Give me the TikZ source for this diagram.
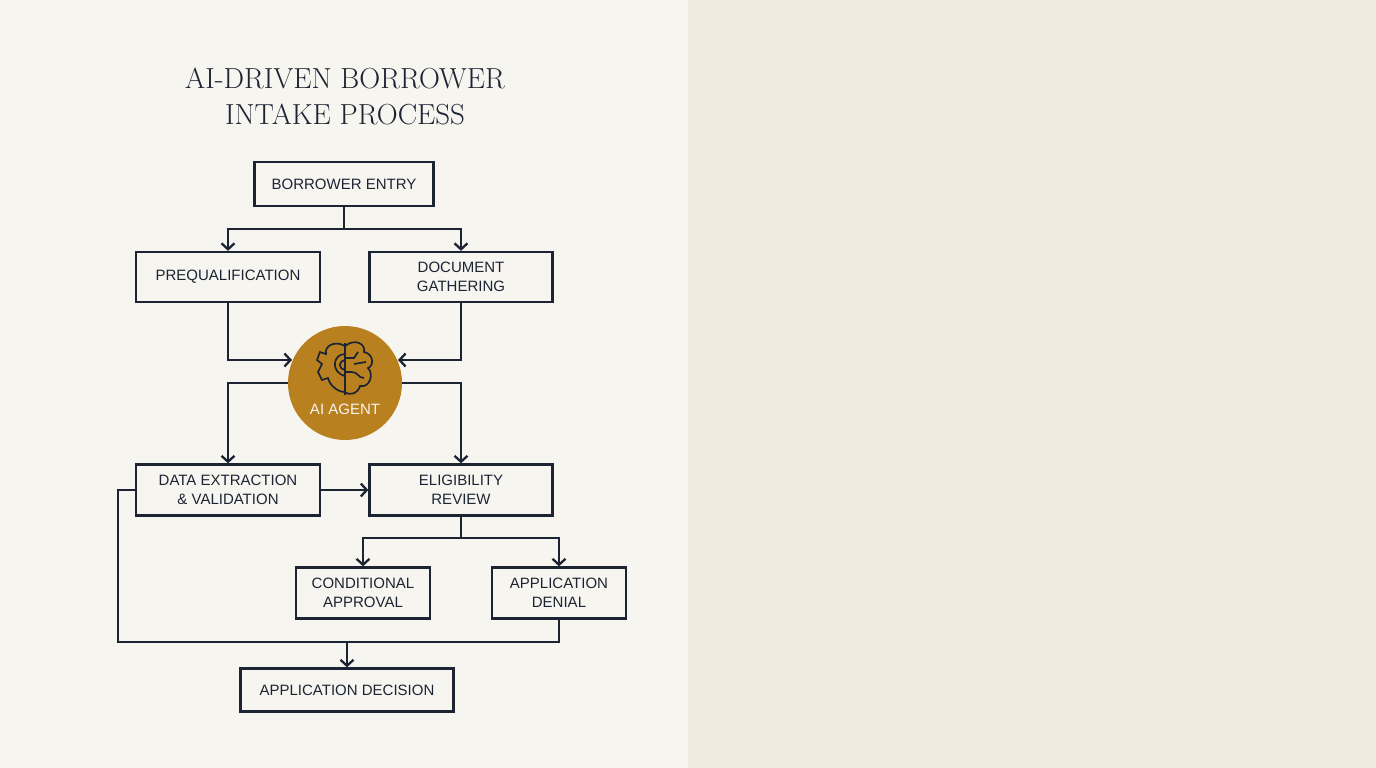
\documentclass[tikz,border=0pt]{standalone}
\usepackage{fontspec}
\setsansfont{Liberation Sans}
\usetikzlibrary{positioning,arrows.meta}
\definecolor{ink}{HTML}{1C2433}
\definecolor{paper}{HTML}{F7F5F0}
\definecolor{panel}{HTML}{EFEAE0}
\definecolor{amber}{HTML}{B98020}
\begin{document}
\begin{tikzpicture}[x=1pt,y=-1pt,
  step box/.style={rectangle,draw=ink,fill=paper,line width=2.3pt,align=center,
    font=\sffamily\fontsize{15}{19}\selectfont,text=ink,inner sep=0pt},
  flow/.style={draw=ink,line width=2.3pt,->,>={Straight Barb[length=6pt,width=13pt]}},
  link/.style={draw=ink,line width=2.3pt}]
\useasboundingbox (0,0) rectangle (1376,768);
\fill[paper] (0,0) rectangle (688,768);
\fill[panel] (688,0) rectangle (1376,768);

\node[font=\fontsize{29}{36}\selectfont,text=ink,align=center] (title) at (345,96)
  {AI-DRIVEN BORROWER\\INTAKE PROCESS};

\node[step box,minimum width=179,minimum height=44] (entry) at (344,184) {BORROWER ENTRY};
\node[step box,minimum width=184,minimum height=50] (prequal) at (228,277) {PREQUALIFICATION};
\node[step box,minimum width=183,minimum height=50] (docs) at (461,277) {DOCUMENT\\GATHERING};
\node[circle,fill=amber,minimum size=114,inner sep=0pt] (agent) at (345,383) {};
\node[font=\sffamily\fontsize{15}{19}\selectfont,text=paper] (agentlbl) at (345,409) {AI AGENT};
\node[step box,minimum width=184,minimum height=51] (extract) at (228,490) {DATA EXTRACTION\\\& VALIDATION};
\node[step box,minimum width=183,minimum height=51] (elig) at (461,490) {ELIGIBILITY\\REVIEW};
\node[step box,minimum width=134,minimum height=51] (cond) at (363,593) {CONDITIONAL\\APPROVAL};
\node[step box,minimum width=134,minimum height=51] (denial) at (559,593) {APPLICATION\\DENIAL};
\node[step box,minimum width=213,minimum height=43] (decision) at (347,690) {APPLICATION DECISION};

\coordinate (inL) at (292,360);
\coordinate (inR) at (398,360);
\coordinate (fork) at (344,229);
\coordinate (split) at (461,538);
\coordinate (merge) at (347,642);

% icon: gear and brain
\begin{scope}[line width=1.7pt,draw=ink]
\draw (345,343) -- (345,395);
\draw (345,346) .. controls (335,340) and (324,346) .. (326,354)
  -- (320,352) -- (317,360) -- (322,364) -- (318,372) -- (322,380) -- (328,378)
  .. controls (330,386) and (338,392) .. (345,392);
\draw (345,354) .. controls (333,354) and (330,372) .. (345,376);
\draw (345,360) .. controls (338,362) and (338,368) .. (345,370);
\draw (345,346) .. controls (355,338) and (366,344) .. (364,352)
  .. controls (374,354) and (374,366) .. (368,368)
  .. controls (374,374) and (370,388) .. (360,386)
  .. controls (358,394) and (348,396) .. (345,392);
\draw (345,358) -- (354,358) -- (358,352);
\draw (345,372) -- (352,372) .. controls (358,372) and (358,378) .. (364,378);
\draw (354,364) -- (366,362);
\end{scope}

\draw[link] (entry.south) -- (fork);
\draw[flow] (fork) -| (prequal.north);
\draw[flow] (fork) -| (docs.north);
\draw[flow] (prequal.south) |- (inL);
\draw[flow] (docs.south) |- (inR);
\draw[flow] (agent.west) -| (extract.north);
\draw[flow] (agent.east) -| (elig.north);
\draw[flow] (extract.east) -- (elig.west);
\draw[link] (elig.south) -- (split);
\draw[flow] (split) -| (cond.north);
\draw[flow] (split) -| (denial.north);
\draw[link] (extract.west) -- (118,490) |- (merge) -| (denial.south);
\draw[flow] (merge) -- (decision.north);
\end{tikzpicture}
\end{document}
